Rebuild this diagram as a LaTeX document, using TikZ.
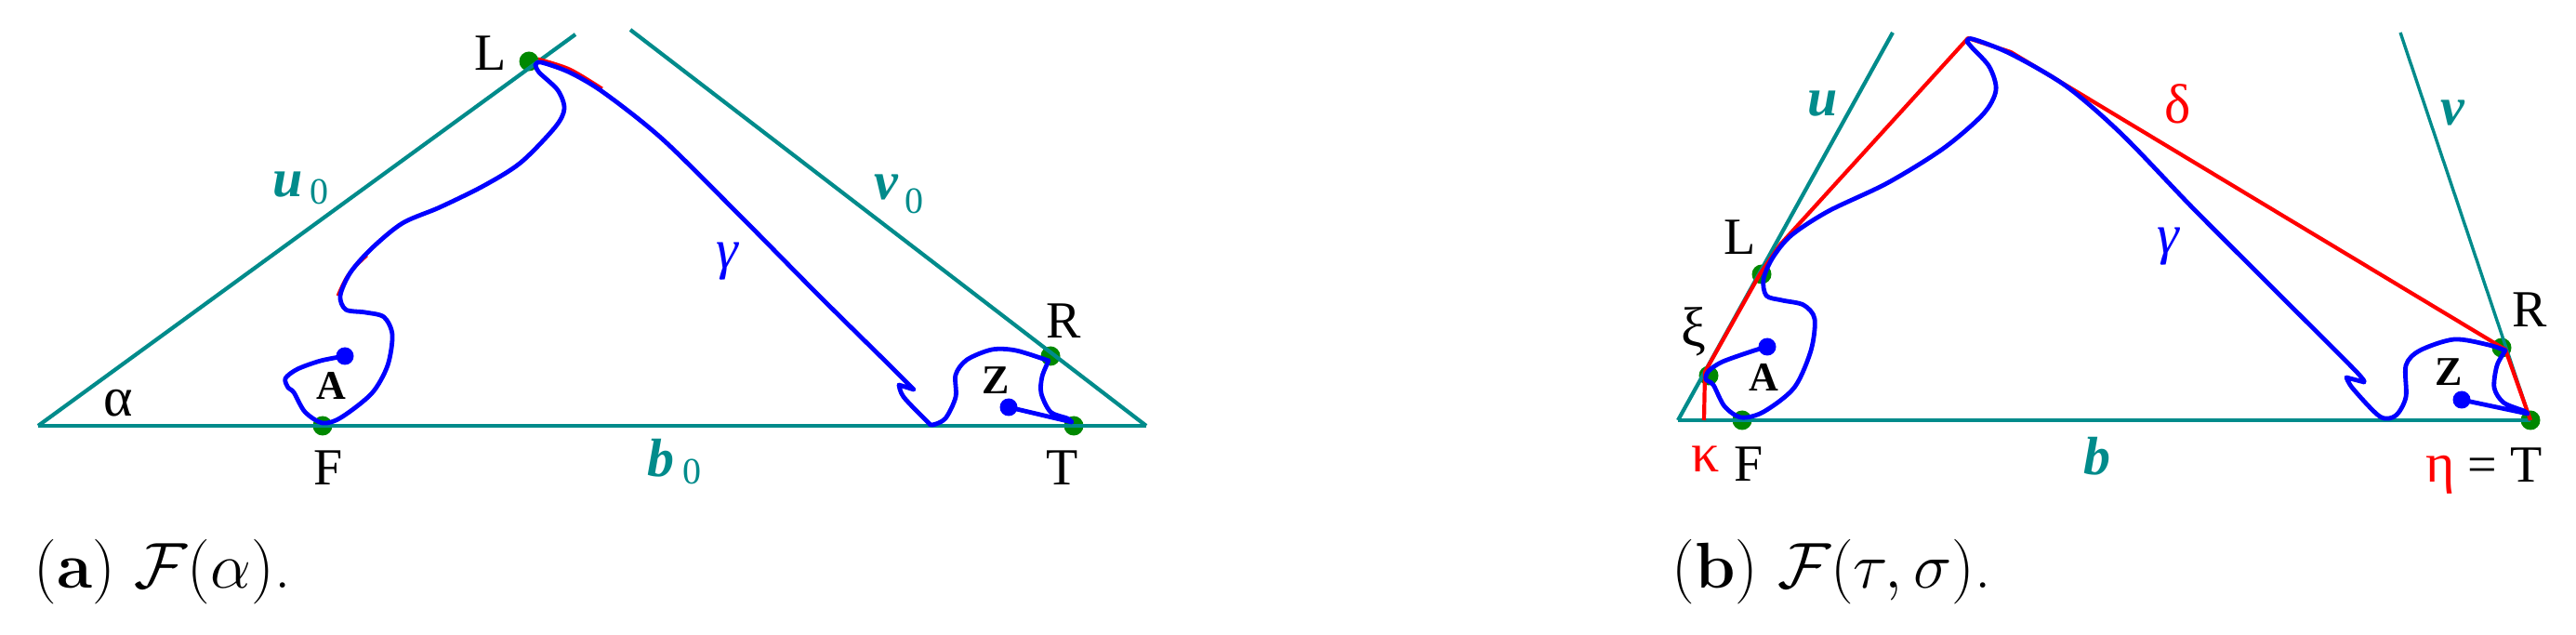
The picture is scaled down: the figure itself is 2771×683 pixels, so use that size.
\documentclass[tikz,border=0pt]{standalone}
\usepackage{fontspec}
\newfontfamily\lab{Liberation Serif}
\definecolor{tealc}{RGB}{0,139,139}
\definecolor{dotg}{RGB}{0,136,0}
\tikzset{
  geo/.style={tealc, line width=2.1pt},
  geothin/.style={tealc, line width=1.7pt},
  bluecurve/.style={blue, line width=2.4pt, line join=round, line cap=round},
  hull/.style={red, line width=2.1pt, line join=round},
  gdot/.style={circle, fill=dotg, inner sep=0pt, minimum size=10.5pt},
  bdot/.style={circle, fill=blue, inner sep=0pt, minimum size=9.5pt},
  lbl/.style={inner sep=0pt, font=\lab\fontsize{28}{28}\selectfont},
  grk/.style={inner sep=0pt, font=\lab\fontsize{30}{30}\selectfont},
  boldlbl/.style={inner sep=0pt, font=\lab\bfseries\fontsize{22}{22}\selectfont},
  veclbl/.style={inner sep=0pt, anchor=base west, text=tealc, font=\lab\bfseries\itshape\fontsize{29}{29}\selectfont},
  sublbl/.style={inner sep=0pt, anchor=base west, text=tealc, font=\lab\fontsize{20}{20}\selectfont},
  captext/.style={inner sep=0pt, anchor=base west, font=\fontsize{24.88}{30}\selectfont}
}
\begin{document}
\begin{tikzpicture}[x=0.5pt, y=-0.5pt]
\useasboundingbox (0,0) rectangle (2771,683);

% ---------------- panel (a) ----------------
\coordinate (aO) at (41,458);
\coordinate (aE) at (1233,458);
\coordinate (aU) at (619,37);
\coordinate (aV) at (678,32);

\node[gdot] (La) at (569,66) {};
\node[gdot] (Fa) at (347,458) {};
\node[gdot] (Ra) at (1130,383) {};
\node[gdot] (Ta) at (1155,458) {};

\draw[geo] (aO) -- (aE);
\draw[geo] (aO) -- (aU);
\draw[geo] (aV) -- (aE);

\draw[red, line width=1.4pt] plot[smooth] coordinates {(579,63) (613,74) (648,95)};
\draw[red, line width=1.4pt] plot[smooth] coordinates {(363,318) (374,296) (395,275)};

\draw[bluecurve] plot[smooth] coordinates {(371,383) (345,388) (320,397) (307,407) (310,417) (316,422) (328,443) (347,455) (367,449) (400,423) (417,393) (422,360) (413,341) (393,336) (372,333) (366,318) (377,293) (400,267) (433,240) (473,223) (520,200) (560,175) (597,137) (607,117) (600,97) (580,78) (576,70)}
  -- plot[smooth] coordinates {(576,70) (582,67) (613,78) (650,100) (713,150) (797,233) (880,317) (957,393) (983,419)}
  -- (967,414)
  -- plot[smooth] coordinates {(967,414) (972,427) (997,453) (1003,457) (1017,450) (1028,427) (1028,403) (1040,387) (1067,376) (1093,377) (1128,388)}
  -- plot[smooth] coordinates {(1128,388) (1121,405) (1120,423) (1130,443) (1148,450) (1153,454)}
  -- (1085,438);

\node[bdot] (Aa) at (371,383) {};
\node[bdot] (Za) at (1085,438) {};

\node[lbl] (lLa) at (528,57) {L};
\node[lbl] (lFa) at (353,503) {F};
\node[lbl] (lRa) at (1144,345) {R};
\node[lbl] (lTa) at (1143,503) {T};
\node[boldlbl] (lAa) at (356,415) {A};
\node[boldlbl] (lZa) at (1071,409) {Z};
\node[grk] (lalpha) at (127,434) {α};
\node[grk, text=blue, font=\lab\itshape\fontsize{30}{30}\selectfont] (lga) at (782,281) {γ};
\node[veclbl] (lu0) at (293,212) {u};
\node[sublbl] (lu0s) at (333,220) {0};
\node[veclbl] (lv0) at (940,215) {v};
\node[sublbl] (lv0s) at (973,230) {0};
\node[veclbl] (lb0) at (696,512) {b};
\node[sublbl] (lb0s) at (734,521) {0};

\node[captext] (capa) at (36,632) {\scalebox{1.4}{(\textbf{a}) $\mathcal{F}(\alpha)$.}};

% ---------------- panel (b) ----------------
\coordinate (bO) at (1805,452);
\coordinate (bU) at (2036,35);
\coordinate (bV) at (2582,35);
\coordinate (kap) at (1833,452);
\coordinate (xiv) at (1834,400);
\coordinate (Lv) at (1893,295);
\coordinate (bend) at (1915,263);
\coordinate (peak) at (2117,41);
\coordinate (dbend) at (2163,56);
\coordinate (Rv) at (2695,376);

\node[gdot] (Lb) at (1895,295) {};
\node[gdot] (Xb) at (1838,404) {};
\node[gdot] (Fb) at (1874,452) {};
\node[gdot] (Rb) at (2691,374) {};
\node[gdot] (Tb) at (2722,452) {};

\draw[geo] (bO) -- (Tb.center);
\draw[geo] (bO) -- (bU);
\draw[geothin] (bV) -- (Tb.center);

\draw[hull] (kap) -- (xiv) -- (Lv) -- (bend) -- (peak) -- (dbend) -- (Rv) -- (Tb.center);

\draw[bluecurve] plot[smooth] coordinates {(1901,373) (1887,377) (1853,389) (1838,399) (1835,408) (1843,414) (1855,437) (1873,449) (1897,443) (1930,417) (1948,377) (1952,343) (1940,328) (1917,323) (1900,318) (1897,300) (1907,277) (1927,253) (1967,227) (2030,197) (2090,160) (2133,123) (2147,97) (2140,72) (2122,52) (2116,45)}
  -- plot[smooth] coordinates {(2116,45) (2122,42) (2163,58) (2223,93) (2283,145) (2360,225) (2450,315) (2533,398) (2543,411)}
  -- (2524,406)
  -- plot[smooth] coordinates {(2524,406) (2531,418) (2560,448) (2577,447) (2588,427) (2588,393) (2603,377) (2640,365) (2677,371) (2695,377)}
  -- plot[smooth] coordinates {(2695,377) (2686,393) (2683,417) (2693,433) (2715,442) (2719,445)}
  -- (2648,430);

\node[bdot] (Ab) at (1901,373) {};
\node[bdot] (Zb) at (2648,430) {};

\node[lbl] (lLb) at (1872,255) {L};
\node[lbl] (lFb) at (1881,499) {F};
\node[lbl] (lRb) at (2721,333) {R};
\node[boldlbl] (lAb) at (1897,406) {A};
\node[boldlbl] (lZb) at (2634,400) {Z};
\node[grk] (lxi) at (1822,357) {ξ};
\node[grk, text=red] (lkappa) at (1835,494) {κ};
\node[grk, text=red] (ldelta) at (2343,112) {δ};
\node[grk, text=blue, font=\lab\itshape\fontsize{30}{30}\selectfont] (lgb) at (2332,265) {γ};
\node[veclbl] (lu) at (1944,125) {u};
\node[veclbl] (lv) at (2625,135) {v};
\node[veclbl] (lb) at (2241,510) {b};
\node[lbl, anchor=base] (leta) at (2672,518) {\textcolor{red}{\fontsize{30}{30}\selectfont η} = T};

\node[captext] (capb) at (1798,632) {\scalebox{1.4}{(\textbf{b}) $\mathcal{F}(\tau,\sigma)$.}};
\end{tikzpicture}
\end{document}
